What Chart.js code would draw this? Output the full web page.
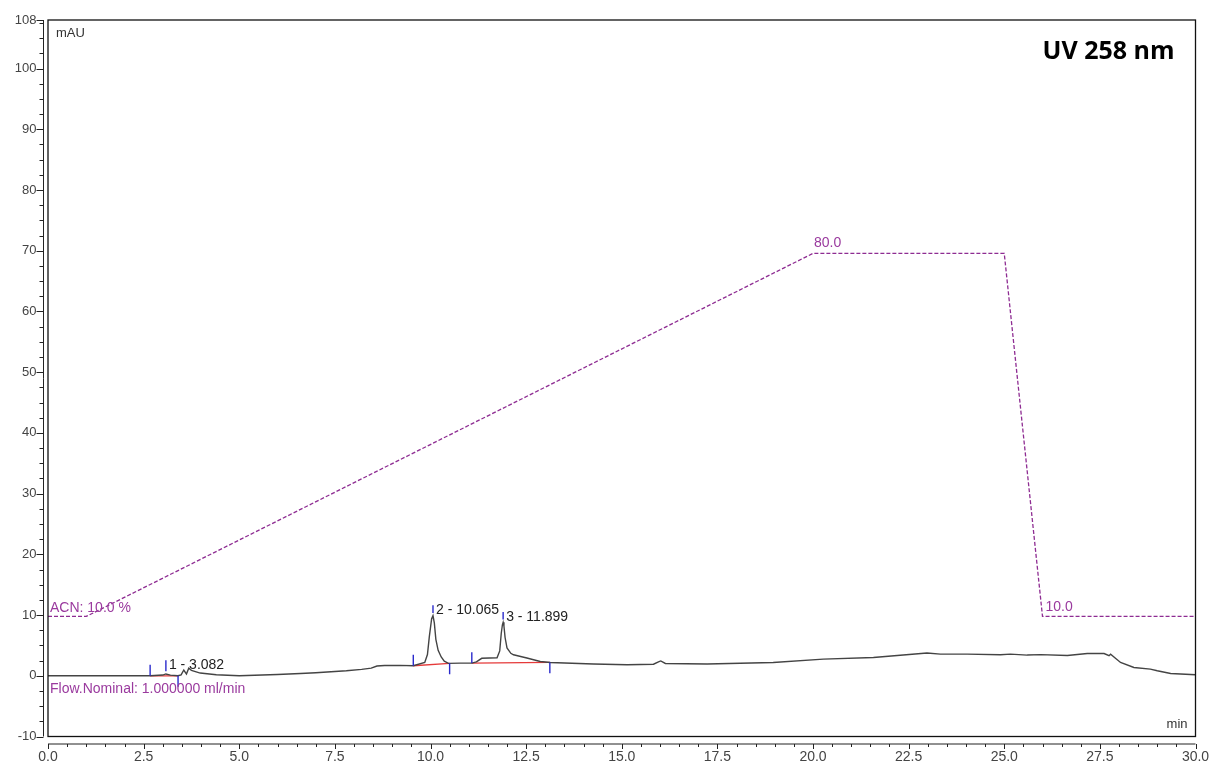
<!DOCTYPE html>
<html>
<head>
<meta charset="utf-8">
<title>UV 258 nm chromatogram</title>
<script src="https://cdn.jsdelivr.net/npm/chart.js@4.4.1/dist/chart.umd.min.js"></script>
<style>
  html, body { margin: 0; padding: 0; background: #ffffff; }
  #wrap { width: 1212px; height: 765px; }
</style>
</head>
<body>
<div id="wrap"><canvas id="chrom" width="1212" height="765"></canvas></div>
<script>
// Detector trace (retention time in min, signal in mAU)
const traceTimes = [0, 1.5, 2.67, 3.0, 3.082, 3.2, 3.4, 3.48, 3.55, 3.62, 3.68, 3.75, 3.98, 4.4, 5.0,
  6.0, 6.6, 7.0, 7.8, 8.2, 8.45, 8.6, 8.8, 9.2, 9.55, 9.85, 9.92, 9.97, 10.03, 10.065, 10.1, 10.14, 10.2,
  10.28, 10.36, 10.47, 10.78, 11.08, 11.2, 11.34, 11.74, 11.81, 11.85, 11.88, 11.899, 11.92, 11.95, 12.0, 12.1,
  12.17, 12.52, 12.87, 13.13, 14.26, 15.14, 15.83, 15.96, 16.02, 16.14, 17.23, 18.96, 20.27, 21.58,
  22.98, 23.33, 24.03, 24.9, 25.16, 25.6, 25.95, 26.65, 27.17, 27.61, 27.74, 27.78, 28.04, 28.39,
  28.82, 29.0, 29.35, 30.0];
const traceValues = [0, 0, 0, 0.12, 0.3, 0.1, 0, 0.15, 0.95, 0.28, 1.26, 0.9, 0.45, 0.16, 0,
  0.2, 0.38, 0.5, 0.82, 1.05, 1.25, 1.6, 1.7, 1.72, 1.65, 2.2, 3.5, 6.5, 9.4, 9.9, 8.7, 6.0, 4.2,
  3.1, 2.4, 2.05, 2.09, 2.09, 2.3, 2.88, 2.97, 4.1, 7.0, 8.4, 8.8, 8.2, 6.3, 4.6, 3.7,
  3.46, 2.92, 2.36, 2.19, 1.93, 1.81, 1.9, 2.3, 2.45, 2.03, 1.93, 2.19, 2.75, 3.01,
  3.74, 3.57, 3.57, 3.46, 3.57, 3.41, 3.49, 3.34, 3.67, 3.67, 3.3, 3.54, 2.19, 1.37,
  1.1, 0.82, 0.38, 0.16];

// Solvent gradient program (% ACN)
const gradientTimes = [0, 1.0, 20.0, 25.0, 26.0, 30.0];
const gradientPercent = [10, 10, 80, 80, 10, 10];

// Integrated peaks
const peakNumbers = [1, 2, 3];
const peakTimes = [3.082, 10.065, 11.899];
const peakApex = [0.3, 9.9, 8.8];
const peakStartTimes = [2.67, 9.55, 11.08];
const peakStartBase = [0, 1.65, 2.09];
const peakEndTimes = [3.40, 10.50, 13.12];
const peakEndBase = [0, 2.05, 2.2];

// Axis ticks
const yTickLabels = [108, 100, 90, 80, 70, 60, 50, 40, 30, 20, 10, 0, -10];
const xTickLabels = ['0.0', '2.5', '5.0', '7.5', '10.0', '12.5', '15.0', '17.5', '20.0', '22.5', '25.0', '27.5', '30.0'];

const flowRate = '1.000000';

// ---- build datasets ----
const tracePts = traceTimes.map((t, i) => ({ x: t, y: traceValues[i] }));
const gradPts = gradientTimes.map((t, i) => ({ x: t, y: gradientPercent[i] }));

const baselinePts = [];
peakNumbers.forEach((n, i) => {
  baselinePts.push({ x: peakStartTimes[i], y: peakStartBase[i] });
  baselinePts.push({ x: peakEndTimes[i], y: peakEndBase[i] });
  baselinePts.push({ x: peakEndTimes[i], y: null });
});

const MARK = 1.8, GAP = 0.45, APEX_MARK = 1.25;
const markerPts = [];
peakNumbers.forEach((n, i) => {
  markerPts.push({ x: peakStartTimes[i], y: peakStartBase[i] }, { x: peakStartTimes[i], y: peakStartBase[i] + MARK }, { x: peakStartTimes[i], y: null });
  markerPts.push({ x: peakEndTimes[i], y: peakEndBase[i] }, { x: peakEndTimes[i], y: peakEndBase[i] - MARK }, { x: peakEndTimes[i], y: null });
  markerPts.push({ x: peakTimes[i], y: peakApex[i] + GAP }, { x: peakTimes[i], y: peakApex[i] + GAP + (i === 0 ? MARK : APEX_MARK) }, { x: peakTimes[i], y: null });
});

const FONT = '"Liberation Sans", Arial, Helvetica, sans-serif';
const PURPLE = '#9a3a9e';

// Frame, axes and annotation text
const decorPlugin = {
  id: 'decor',
  afterDatasetsDraw(chart) {
    const { ctx, chartArea: a, scales } = chart;
    const xs = scales.x, ys = scales.y, g = scales.y2;
    ctx.save();

    // frame
    ctx.strokeStyle = '#111';
    ctx.lineWidth = 1.3;
    ctx.strokeRect(a.left, a.top, a.right - a.left, a.bottom - a.top);

    // y axis
    const yAxisX = a.left - 4.5;
    ctx.beginPath();
    ctx.moveTo(yAxisX, a.top); ctx.lineTo(yAxisX, a.bottom);
    for (let v = -10; v <= 108.01; v += 2.5) {
      const p = Math.round(ys.getPixelForValue(v)) + 0.5;
      const major = Math.abs(v % 10) < 1e-6;
      ctx.moveTo(yAxisX - (major ? 7 : 4), p); ctx.lineTo(yAxisX, p);
    }
    const pTop = Math.round(ys.getPixelForValue(108)) + 0.5;
    ctx.moveTo(yAxisX - 7, pTop); ctx.lineTo(yAxisX, pTop);
    ctx.strokeStyle = '#222';
    ctx.lineWidth = 1;
    ctx.stroke();

    ctx.fillStyle = '#444';
    ctx.font = '13px ' + FONT;
    ctx.textAlign = 'right';
    ctx.textBaseline = 'middle';
    yTickLabels.forEach(v => ctx.fillText(String(v), yAxisX - 7, ys.getPixelForValue(v)));

    // x axis
    const xAxisY = a.bottom + 7.5;
    ctx.beginPath();
    ctx.moveTo(a.left, xAxisY); ctx.lineTo(a.right, xAxisY);
    for (let k = 0; k <= 60; k++) {
      const t = k * 0.5;
      const p = Math.round(xs.getPixelForValue(t)) + 0.5;
      const major = k % 5 === 0;
      ctx.moveTo(p, xAxisY); ctx.lineTo(p, xAxisY + (major ? 5 : 3));
    }
    ctx.strokeStyle = '#222';
    ctx.stroke();

    ctx.font = '14px ' + FONT;
    ctx.textAlign = 'center';
    ctx.textBaseline = 'top';
    xTickLabels.forEach(s => ctx.fillText(s, xs.getPixelForValue(parseFloat(s)), xAxisY + 6));

    // units
    ctx.font = '13px ' + FONT;
    ctx.fillStyle = '#333';
    ctx.textAlign = 'left';
    ctx.textBaseline = 'middle';
    ctx.fillText('mAU', a.left + 8, a.top + 13);
    ctx.textAlign = 'right';
    ctx.fillText('min', a.right - 8, a.bottom - 12);

    // peak labels
    ctx.font = '14px ' + FONT;
    ctx.fillStyle = '#222';
    ctx.textAlign = 'left';
    ctx.textBaseline = 'middle';
    peakNumbers.forEach((n, i) => {
      const px = xs.getPixelForValue(peakTimes[i]) + 3;
      const top = ys.getPixelForValue(peakApex[i] + GAP + (i === 0 ? MARK : APEX_MARK));
      ctx.fillText(n + ' - ' + peakTimes[i].toFixed(3), px, top + 5);
    });

    // gradient labels
    ctx.fillStyle = PURPLE;
    ctx.fillText('ACN: ' + gradientPercent[0].toFixed(1) + ' %', a.left + 2, g.getPixelForValue(gradientPercent[0]) - 8);
    ctx.fillText(gradientPercent[2].toFixed(1), xs.getPixelForValue(gradientTimes[2]) + 1, g.getPixelForValue(gradientPercent[2]) - 10);
    ctx.fillText(gradientPercent[4].toFixed(1), xs.getPixelForValue(gradientTimes[4]) + 3, g.getPixelForValue(gradientPercent[4]) - 9);
    ctx.fillText('Flow.Nominal: ' + flowRate + ' ml/min', a.left + 2, ys.getPixelForValue(0) + 13);

    // channel title
    ctx.fillStyle = '#000';
    ctx.font = 'bold 25px "Open Sans", ' + FONT;
    ctx.textAlign = 'right';
    ctx.textBaseline = 'alphabetic';
    ctx.fillText('UV 258 nm', a.right - 21, a.top + 39);

    ctx.restore();
  }
};

new Chart(document.getElementById('chrom'), {
  type: 'line',
  data: {
    datasets: [
      {
        label: 'ACN %',
        data: gradPts,
        yAxisID: 'y2',
        borderColor: '#8e2c92',
        borderWidth: 1.3,
        borderDash: [4, 2],
        pointRadius: 0,
        tension: 0,
        order: 3
      },
      {
        label: 'Baseline',
        data: baselinePts,
        yAxisID: 'y',
        borderColor: '#e53a3a',
        borderWidth: 1.3,
        pointRadius: 0,
        spanGaps: false,
        order: 2
      },
      {
        label: 'UV 258 nm',
        data: tracePts,
        yAxisID: 'y',
        borderColor: '#444444',
        borderWidth: 1.4,
        pointRadius: 0,
        tension: 0,
        order: 1
      },
      {
        label: 'Peak marks',
        data: markerPts,
        yAxisID: 'y',
        borderColor: '#2a2acc',
        borderWidth: 1.4,
        pointRadius: 0,
        spanGaps: false,
        order: 0
      }
    ]
  },
  options: {
    responsive: false,
    devicePixelRatio: 1,
    animation: false,
    events: [],
    layout: { padding: { left: 48, right: 16.5, top: 20, bottom: 28.5 } },
    plugins: { legend: { display: false }, tooltip: { enabled: false } },
    scales: {
      x: { type: 'linear', min: 0, max: 30, display: false },
      y: { type: 'linear', min: -10, max: 108, display: false },
      y2: { type: 'linear', min: -13.15, max: 125.0, display: false }
    }
  },
  plugins: [decorPlugin]
});
</script>
</body>
</html>
